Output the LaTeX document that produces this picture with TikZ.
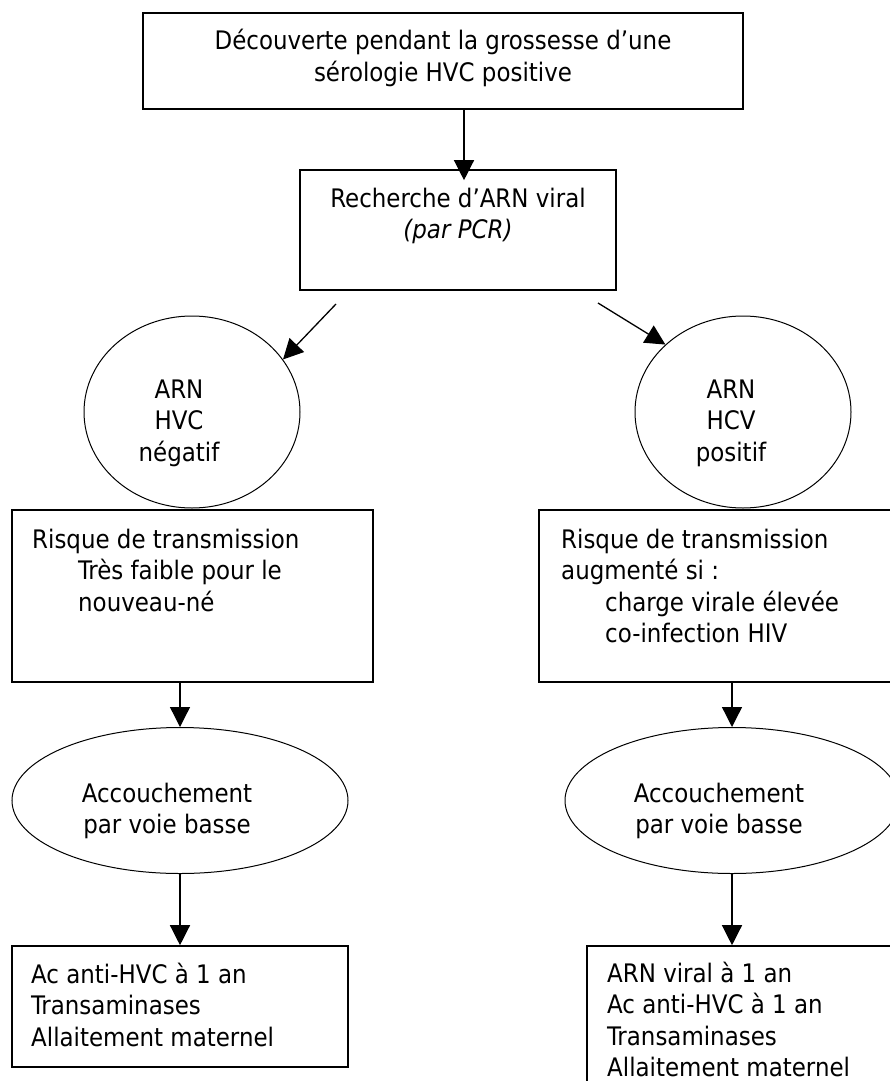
\documentclass[tikz,border=0pt]{standalone}
\usepackage{fontspec}
\setmainfont{DejaVu Sans Condensed}
\usetikzlibrary{shapes.geometric,arrows.meta}

\begin{document}
\begin{tikzpicture}[x=1pt,y=1pt,yscale=-1,
  boite/.style={draw, line width=1.6pt, inner sep=0pt},
  bulle/.style={draw, ellipse, line width=1pt, inner sep=0pt},
  texte/.style={inner sep=0pt, font=\fontsize{25.5}{31.5}\selectfont},
  fleche/.style={line width=1.3pt, -{Triangle[length=20pt,width=20pt]}}]
\useasboundingbox (0,0) rectangle (890,1081);

% Text Node
\node [boite, minimum width=600, minimum height=96] (decouv) at (443,61) {};
\node [texte, anchor=base] (t-decouv) at (443,50) {\begin{minipage}[t]{590pt}\centering
D\'ecouverte pendant la grossesse d'une\\s\'erologie HVC positive
\end{minipage}};
% Text Node
\node [boite, minimum width=316, minimum height=120] (pcr) at (458,230) {};
\node [texte, anchor=base] (t-pcr) at (458,207) {\begin{minipage}[t]{300pt}\centering
Recherche d'ARN viral\\\textit{(par PCR)}
\end{minipage}};
% Text Node
\node [bulle, minimum width=216, minimum height=192] (rnaneg) at (192,412) {};
\node [texte, anchor=base] (t-rnaneg) at (179,398) {\begin{minipage}[t]{150pt}\centering
ARN\\HVC\\n\'egatif
\end{minipage}};
% Text Node
\node [bulle, minimum width=216, minimum height=192] (rnapos) at (743,412) {};
\node [texte, anchor=base] (t-rnapos) at (731,398) {\begin{minipage}[t]{150pt}\centering
ARN\\HCV\\positif
\end{minipage}};
% Text Node
\node [boite, minimum width=361, minimum height=172] (risque-neg) at (192.5,596) {};
\node [texte, anchor=base west] (t-risque-neg) at (32,548) {\begin{minipage}[t]{330pt}\raggedright
Risque de transmission\\\hspace*{46pt}Tr\`es faible pour le\\\hspace*{46pt}nouveau-n\'e
\end{minipage}};
% Text Node
\node [boite, minimum width=361, minimum height=172] (risque-pos) at (719.5,596) {};
\node [texte, anchor=base west] (t-risque-pos) at (561,548) {\begin{minipage}[t]{320pt}\raggedright
Risque de transmission\\augment\'e si :\\\hspace*{44pt}charge virale \'elev\'ee\\\hspace*{44pt}co-infection HIV
\end{minipage}};
% Text Node
\node [bulle, minimum width=336, minimum height=146] (acc-neg) at (180,800.5) {};
\node [texte, anchor=base] (t-acc-neg) at (167,802) {\begin{minipage}[t]{250pt}\centering
Accouchement\\par voie basse
\end{minipage}};
% Text Node
\node [bulle, minimum width=334, minimum height=146] (acc-pos) at (732,800.5) {};
\node [texte, anchor=base] (t-acc-pos) at (719,802) {\begin{minipage}[t]{250pt}\centering
Accouchement\\par voie basse
\end{minipage}};
% Text Node
\node [boite, minimum width=336, minimum height=121] (suivi-neg) at (180,1006.5) {};
\node [texte, anchor=base west] (t-suivi-neg) at (31,983) {\begin{minipage}[t]{310pt}\raggedright
Ac anti-HVC \`a 1 an\\Transaminases\\Allaitement maternel
\end{minipage}};
% Text Node
\node [boite, minimum width=313, minimum height=164] (suivi-pos) at (743.5,1028) {};
\node [texte, anchor=base west] (t-suivi-pos) at (607,982) {\begin{minipage}[t]{280pt}\raggedright
ARN viral \`a 1 an\\Ac anti-HVC \`a 1 an\\Transaminases\\Allaitement maternel
\end{minipage}};

%Straight Lines
\coordinate (depart-g) at (336,304);
\coordinate (depart-d) at (598,303);
\draw [fleche, shorten >=-11pt] ([xshift=21]decouv.south) -- ([xshift=6]pcr.north);
\draw [fleche] (depart-g) -- (rnaneg.30);
\draw [fleche] (depart-d) -- (rnapos.139);
\draw [fleche] (acc-neg.north |- risque-neg.south) -- (acc-neg.north);
\draw [fleche] (acc-pos.north |- risque-pos.south) -- (acc-pos.north);
\draw [fleche] (acc-neg.south) -- (suivi-neg.north);
\draw [fleche] (acc-pos.south) -- (acc-pos.south |- suivi-pos.north);

\end{tikzpicture}
\end{document}
